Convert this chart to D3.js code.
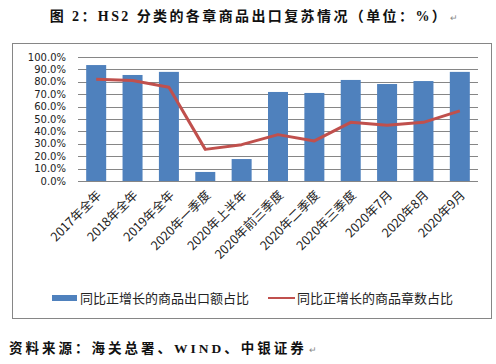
<!DOCTYPE html>
<html>
<head>
<meta charset="utf-8">
<script src="https://cdn.jsdelivr.net/npm/d3@7"></script>
<style>
  body { margin: 0; background: #fff; }
  svg { display: block; }
</style>
</head>
<body>
<svg id="chart" width="496" height="364"></svg>
<script>
// categories and the two series
const categories = ["2017年全年", "2018年全年", "2019年全年", "2020年一季度", "2020年上半年",
  "2020年前三季度", "2020年二季度", "2020年三季度", "2020年7月", "2020年8月", "2020年9月"];
const exportShare = [93.5, 85.5, 88.0, 7.3, 17.7, 71.8, 71.0, 81.5, 78.2, 80.6, 88.0];
const chapterShare = [82.0, 81.0, 75.6, 25.5, 29.3, 37.4, 32.3, 47.3, 45.0, 47.3, 56.5];
const yTicks = [0, 10, 20, 30, 40, 50, 60, 70, 80, 90, 100];
const seriesNames = ["同比正增长的商品出口额占比", "同比正增长的商品章数占比"];

const title = "图 2：HS2 分类的各章商品出口复苏情况（单位：%）";
const source = "资料来源：海关总署、WIND、中银证券";

const barColor = "#4F81BD", lineColor = "#C0504D";
const cjk = "'Noto Sans CJK SC', sans-serif";
const serif = "'Liberation Serif', 'Noto Sans CJK SC', serif";

var svg = d3.select("#chart");

// paragraph mark after a text line, like in the word document
function returnMark(textNode, yPos) {
  var bb = textNode.node().getBBox();
  svg.append("text")
      .attr("x", bb.x + bb.width + 2).attr("y", yPos)
      .style("font-size", "9px").attr("fill", "#888")
      .style("font-family", cjk)
      .text("↵");
}

// title
var titleText = svg.append("text")
    .attr("x", 249).attr("y", 21)
    .attr("text-anchor", "middle")
    .style("font-family", serif)
    .style("font-weight", "bold")
    .style("font-size", "14px")
    .style("letter-spacing", "2.4px")
    .attr("fill", "#111")
    .text(title);
returnMark(titleText, 21);

// chart frame
svg.append("rect")
    .attr("x", 12.5).attr("y", 43.5)
    .attr("width", 479).attr("height", 275)
    .attr("fill", "none").attr("stroke", "#868686");

var x = d3.scaleBand().domain(categories).range([78, 478]).paddingInner(0.45).paddingOuter(0.225);
var y = d3.scaleLinear().domain([0, 100]).range([181, 57]);

// grid lines
svg.append("g")
    .selectAll("line")
    .data(yTicks)
    .enter().append("line")
      .attr("x1", 78).attr("x2", 478)
      .attr("y1", d => Math.round(y(d)) + 0.5)
      .attr("y2", d => Math.round(y(d)) + 0.5)
      .attr("stroke", "#868686");

// y labels
svg.append("g")
    .selectAll("text")
    .data(yTicks)
    .enter().append("text")
      .attr("x", 66)
      .attr("y", d => y(d))
      .attr("dy", "0.35em")
      .attr("text-anchor", "end")
      .style("font-family", "'DejaVu Sans', sans-serif")
      .style("font-size", "10px")
      .attr("fill", "#222")
      .text(d => d.toFixed(1) + "%");

// bars
svg.append("g")
    .selectAll("rect")
    .data(exportShare)
    .enter().append("rect")
      .attr("x", (d, i) => x(categories[i]))
      .attr("y", d => y(d))
      .attr("width", x.bandwidth())
      .attr("height", d => y(0) - y(d))
      .attr("fill", barColor);

// line
var line = d3.line()
    .x((d, i) => x(categories[i]) + x.bandwidth() / 2)
    .y(d => y(d));
svg.append("path")
    .datum(chapterShare)
    .attr("d", line)
    .attr("fill", "none")
    .attr("stroke", lineColor)
    .attr("stroke-width", 3)
    .attr("stroke-linejoin", "round");

// x labels, rotated
svg.append("g")
    .selectAll("text")
    .data(categories)
    .enter().append("text")
      .attr("transform", d => "translate(" + (x(d) + x.bandwidth() / 2 + 6) + ",196) rotate(-45)")
      .attr("text-anchor", "end")
      .style("font-family", cjk)
      .style("font-size", "12.5px")
      .attr("fill", "#222")
      .text(d => d);

// legend
var legend = svg.append("g");
legend.append("rect")
    .attr("x", 52).attr("y", 295).attr("width", 25).attr("height", 6)
    .attr("fill", barColor);
legend.append("text")
    .attr("x", 80).attr("y", 298).attr("dy", "0.35em")
    .style("font-family", cjk).style("font-size", "13px").attr("fill", "#222")
    .text(seriesNames[0]);
legend.append("line")
    .attr("x1", 268).attr("x2", 295).attr("y1", 298).attr("y2", 298)
    .attr("stroke", lineColor).attr("stroke-width", 2);
legend.append("text")
    .attr("x", 297).attr("y", 298).attr("dy", "0.35em")
    .style("font-family", cjk).style("font-size", "13px").attr("fill", "#222")
    .text(seriesNames[1]);

// source note
var sourceText = svg.append("text")
    .attr("x", 9).attr("y", 353)
    .style("font-family", serif)
    .style("font-weight", "bold")
    .style("font-size", "13.5px")
    .style("letter-spacing", "3px")
    .attr("fill", "#111")
    .text(source);
returnMark(sourceText, 353);
</script>
</body>
</html>
